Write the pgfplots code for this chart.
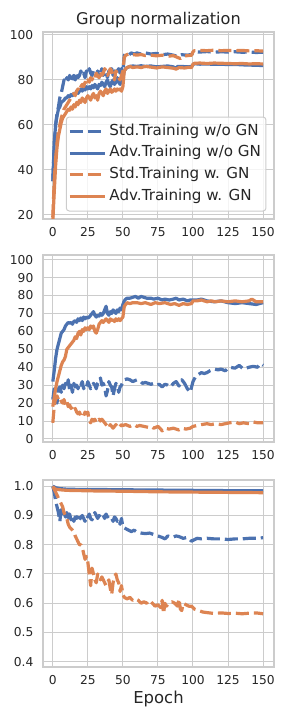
\documentclass[border=0pt]{standalone}
\usepackage{fontspec}
\setmainfont{DejaVu Sans}
\usepackage{pgfplots}
\pgfplotsset{compat=1.18}
\definecolor{sblue}{HTML}{4C72B0}
\definecolor{sorange}{HTML}{DD8452}
\definecolor{gridgray}{HTML}{CCCCCC}
\definecolor{textgray}{HTML}{262626}
\pgfplotsset{
  panel/.style={
    scale only axis, width=231bp, height=187bp, anchor=south west,
    xmin=-7, xmax=157.8,
    xtick={0,25,50,75,100,125,150},
    xticklabels={0,25,50,75,100,125,150},
    axis line style={draw=gridgray, line width=1.25bp},
    grid=major, grid style={draw=gridgray, line width=1bp},
    major tick length=0pt, tick style={draw=none},
    tick label style={font=\fontsize{12.3}{12.3}\selectfont, text=textgray, inner sep=0pt},
    xticklabel style={anchor=north, yshift=-8.5bp},
    yticklabel style={anchor=east, xshift=-9.5bp},
    every axis plot/.append style={line width=3.2bp, line join=round},
    clip=true,
  },
  sd/.style={dash pattern=on 13bp off 5bp},
}
\begin{document}
\begin{tikzpicture}
\useasboundingbox (0,0) rectangle (288bp,720bp);
% ---------- Panel 1 ----------
\begin{axis}[panel, at={(43bp,501bp)},
  ymin=18.2, ymax=101.3,
  ytick={20,40,60,80,100}, yticklabels={20,40,60,80,100},
  title={Group normalization},
  every axis title/.style={at={(0.5,1)}, anchor=base, yshift=7bp, font=\fontsize{16.2}{16.2}\selectfont, text=textgray},
  legend cell align=left,
  legend image code/.code={\draw[#1, line cap=butt] (0bp,0bp) -- (34bp,0bp); \path (0bp,0bp) -- (35bp,0bp);},
  legend style={at={(0.9675,0.04)}, anchor=south east, draw=gridgray, line width=1bp,
    fill=white, fill opacity=0.8, draw opacity=1, text opacity=1, rounded corners=3bp,
    inner xsep=2bp, inner ysep=3.6bp, row sep=0pt,
    font=\fontsize{15.2}{15.2}\selectfont, text=textgray,
    nodes={inner xsep=3bp, inner ysep=3.6bp, text height=11bp, text depth=3.5bp}},
]
\addplot[sblue, sd] coordinates {(0,35)(1,50)(2,60)(3,65)(4,68)(5,72)(6,74)(7,77)(8,80)(9,79)(10,81)(11,80)(12,82)(13,79)(14,81)(15,82)(16,80)(17,83)(18,81)(19,82)(20,84)(21,82)(22,83)(23,81)(24,84)(25,83)(26,85)(27,83)(28,82)(29,84)(30,83)(31,82)(32,84)(33,81)(34,83)(35,85)(36,82)(37,84)(38,83)(39,81)(40,84)(41,83)(42,85)(43,82)(44,84)(45,83)(46,84)(47,85)(48,83)(49,85)(50,84)(51,91)(52,91.5)(54,91)(56,92)(58,91.5)(60,92)(63,91.5)(66,92)(70,91.5)(74,91.8)(78,91.2)(82,91.5)(86,91)(89,90.5)(92,91.2)(96,91)(99,91.3)(100,92)(101,92.5)(105,92.4)(110,92.6)(115,92.3)(120,92.5)(125,92.4)(130,92.5)(135,92.3)(140,92.4)(145,92.2)(150,92.3)};
\addlegendentry{Std.Training w/o GN\hspace{5bp}}
\addplot[sblue] coordinates {(0,35)(1,52)(2,60)(3,64)(4,67)(5,68)(6,70)(7,70.5)(8,71)(9,72)(10,72)(11,73)(12,72.5)(13,73.5)(14,73)(15,74)(16,73.5)(17,75)(18,74)(19,75)(20,76)(21,75)(22,76.5)(23,75.5)(24,77)(25,76)(26,77)(27,76)(28,77.5)(29,76.5)(30,78)(31,77)(32,76)(33,78)(34,77.5)(35,79)(36,78)(37,77)(38,79)(39,80)(40,78)(41,77)(42,79)(43,80)(44,78)(45,79)(46,81)(47,79)(48,78)(49,80)(50,81)(51,84)(52,85)(53,85.5)(55,86)(57,86.2)(60,86)(63,86.3)(66,86)(70,86.2)(74,85.8)(78,86)(82,86.2)(86,85.8)(88,85.2)(89,86)(92,86)(96,85.8)(99,86)(100,86.8)(101,87.2)(105,87)(110,87.1)(115,86.9)(120,87)(125,86.8)(130,86.9)(135,86.7)(140,86.6)(145,86.5)(150,86.4)};
\addlegendentry{Adv.Training w/o GN\hspace{5bp}}
\addplot[sorange, sd] coordinates {(0,19)(1,35)(2,45)(3,52)(4,57)(5,60)(6,63)(7,65)(8,67)(9,68)(10,69)(11,70)(12,71)(13,72)(14,73)(15,74)(16,73)(17,75)(18,76)(19,75)(20,77)(21,78)(22,77)(23,79)(24,78)(25,80)(26,79)(27,81)(28,80)(29,82)(30,81)(31,83)(32,82)(33,81)(34,84)(35,82)(36,83)(37,85)(38,84)(39,82)(40,83)(41,85)(42,84)(43,82)(44,80)(45,84)(46,83)(47,81)(48,80)(49,82)(50,84)(51,90)(52,91)(54,91.5)(56,91)(58,91.2)(60,91)(63,91.3)(66,90.8)(70,91)(74,90.7)(78,91)(82,90.5)(86,90.8)(89,90)(91,89.5)(93,90.5)(96,90.8)(99,91)(100,92.5)(101,93)(105,93.1)(110,93)(115,93.2)(120,93)(125,93.1)(130,93)(135,93.1)(140,92.9)(145,93)(150,92.8)};
\addlegendentry{Std.Training w. GN\hspace{5bp}}
\addplot[sorange] coordinates {(0,17)(1,30)(2,42)(3,50)(4,55)(5,58)(6,61)(7,63)(8,64)(9,65)(10,66)(11,67)(12,66.5)(13,68)(14,67)(15,69)(16,68)(17,70)(18,69)(19,71)(20,70)(21,72)(22,71)(23,70)(24,72)(25,73)(26,72)(27,71)(28,73)(29,74)(30,72)(31,73)(32,71)(33,74)(34,75)(35,74)(36,73)(37,75)(38,76)(39,74)(40,75)(41,76)(42,74.5)(43,75)(44,76)(45,75)(46,76)(47,75.5)(48,76)(49,75)(50,77)(51,84)(52,85)(53,85.5)(55,86)(57,85.5)(60,85.8)(63,85.5)(66,86)(70,85.7)(74,85.3)(78,85.8)(82,85.5)(86,85.2)(88,84.8)(90,85.5)(94,85.3)(97,85.6)(99,85.5)(100,87)(101,87.4)(105,87.5)(110,87.3)(115,87.5)(120,87.4)(125,87.3)(130,87.2)(135,87.3)(140,87.1)(145,87.2)(150,87.1)};
\addlegendentry{Adv.Training w. GN\hspace{5bp}}
\end{axis}
% ---------- Panel 2 ----------
\begin{axis}[panel, at={(43bp,278bp)},
  ymin=-1.7, ymax=102.6,
  ytick={0,10,20,30,40,50,60,70,80,90,100}, yticklabels={0,10,20,30,40,50,60,70,80,90,100},
]
\addplot[sblue, sd] coordinates {(0,22)(1,28)(2,24)(3,20)(4,28)(5,29)(6,26)(7,30)(8,28)(9,31)(10,29)(11,33)(12,27)(13,30)(14,26)(15,31)(16,29)(17,30)(18,28)(19,31)(20,30)(21,32)(22,28)(23,30)(24,29)(25,32)(26,30)(27,28)(28,29)(29,31)(30,30)(31,28)(32,31)(33,32)(34,34)(35,30)(36,31)(37,29)(38,24)(39,27)(40,32)(41,30)(42,29)(43,24)(44,28)(45,31)(46,30)(47,26)(48,29)(49,30)(50,32)(51,33)(53,33.5)(55,33)(57,32)(60,33)(62,32.5)(64,31)(66,31.5)(68,31)(70,30.5)(72,31)(74,30)(76,30.5)(78,29)(80,30.5)(82,30)(84,29)(86,31)(88,32)(90,29.5)(92,33)(94,31)(96,28)(98,26)(99,29)(100,32)(102,35)(104,36)(106,37)(108,36.5)(110,37)(112,38)(115,39)(118,38.5)(120,39)(123,38)(126,40)(130,39.5)(133,41)(136,39)(140,40)(143,40.5)(146,40)(148,42)(150,41)};
\addplot[sblue] coordinates {(0,32)(1,38)(2,45)(3,50)(4,53)(5,56)(6,59)(7,60)(8,61)(9,63)(10,64)(11,65)(12,64.5)(13,65)(14,64)(15,65.5)(16,66)(17,65)(18,67)(19,66)(20,67.5)(21,66)(22,68)(23,67)(24,68)(25,67.5)(26,68)(27,69)(28,70)(29,71)(30,69)(31,68)(32,69)(33,68.5)(34,70)(35,69)(36,70)(37,72)(38,74)(39,70)(40,69)(41,71)(42,70)(43,72)(44,71)(45,70)(46,72)(47,71)(48,73)(49,72)(50,75)(51,77)(52,78)(53,78.5)(55,78.5)(57,79)(59,79.5)(61,78.5)(63,79.5)(65,79)(67,78.5)(70,78.5)(72,78)(75,78.5)(78,77.5)(80,78)(83,77.5)(86,78)(88,78.5)(90,77.5)(93,78)(96,77)(98,77.5)(100,77.5)(103,77.5)(106,78)(110,77)(115,76.5)(120,77)(125,76)(130,75.5)(135,76)(140,75.5)(145,75)(150,76)};
\addplot[sorange, sd] coordinates {(0,9)(1,18)(2,23)(3,24)(4,22)(5,23)(6,21)(7,20)(8,22)(9,19)(10,21)(11,18)(12,19)(13,17)(14,18)(15,16)(16,17)(17,15)(18,14)(19,15)(20,13)(21,14)(22,13)(23,15)(24,14)(25,15)(26,10)(27,9)(28,11)(29,10)(30,11)(31,9)(32,10)(33,11)(34,10)(35,11)(36,10)(37,9)(38,8)(39,7)(40,6)(41,8)(42,7)(43,6)(44,7)(45,8)(46,7)(47,6)(48,7)(49,8)(50,7.5)(52,8)(55,7)(58,8)(60,7)(62,7.5)(65,7)(68,6.5)(70,7)(72,6)(75,7)(77,5.5)(78,4.5)(80,6)(83,5.5)(86,6)(88,5.5)(90,5)(92,6)(95,5.5)(98,6)(100,7)(103,7.5)(106,8)(110,8.5)(113,8)(116,8.5)(120,8)(123,8.5)(126,9)(130,9.5)(133,8.5)(136,9)(140,8.5)(143,9.5)(146,9)(150,9)};
\addplot[sorange] coordinates {(0,18)(1,23)(2,28)(3,32)(4,35)(5,38)(6,41)(7,43)(8,44)(9,46)(10,50)(11,51)(12,52)(13,53)(14,54)(15,55)(16,57)(17,56)(18,59)(19,60)(20,58)(21,61)(22,60)(23,62)(24,61)(25,62)(26,61)(27,63)(28,62)(29,63)(30,60)(31,59)(32,61)(33,64)(34,65)(35,66)(36,65)(37,66)(38,67)(39,66)(40,65)(41,67)(42,66)(43,66.5)(44,65.5)(45,67)(46,66)(47,67)(48,66)(49,67)(50,68)(51,74)(52,75)(53,76)(55,75.5)(57,76)(60,76)(63,75.5)(66,76)(70,75)(73,76)(76,75.5)(80,76)(84,75)(87,75.5)(90,74.5)(93,75.5)(96,75)(99,75.5)(100,77)(103,77)(106,77.5)(110,76.5)(113,77)(116,76.5)(120,77)(125,76.5)(130,77)(135,76.5)(140,77)(142,78)(145,76.5)(150,76.5)};
\end{axis}
% ---------- Panel 3 ----------
\begin{axis}[panel, at={(43bp,53bp)},
  ymin=0.382, ymax=1.0214,
  ytick={0.4,0.5,0.6,0.7,0.8,0.9,1.0}, yticklabels={0.4,0.5,0.6,0.7,0.8,0.9,1.0},
  xlabel={Epoch},
  every axis x label/.style={at={(0.5,0)}, anchor=base, yshift=-36bp, font=\fontsize{16.5}{16.5}\selectfont, text=textgray},
]
\addplot[sblue, sd] coordinates {(0,1.0)(1,0.98)(2,0.95)(3,0.93)(4,0.91)(5,0.88)(6,0.92)(7,0.9)(8,0.91)(9,0.895)(10,0.91)(11,0.89)(12,0.905)(13,0.885)(14,0.9)(15,0.88)(16,0.895)(17,0.89)(18,0.9)(19,0.885)(20,0.895)(21,0.9)(22,0.89)(23,0.88)(24,0.9)(25,0.895)(26,0.905)(27,0.89)(28,0.885)(29,0.9)(30,0.91)(31,0.9)(32,0.89)(33,0.9)(34,0.895)(35,0.905)(36,0.9)(37,0.89)(38,0.905)(39,0.895)(40,0.9)(41,0.895)(42,0.89)(43,0.88)(44,0.895)(45,0.89)(46,0.88)(47,0.885)(48,0.87)(49,0.89)(50,0.86)(52,0.855)(54,0.85)(56,0.845)(58,0.85)(60,0.843)(63,0.84)(66,0.838)(69,0.84)(72,0.835)(75,0.83)(78,0.825)(80,0.82)(82,0.83)(85,0.825)(88,0.83)(90,0.828)(93,0.822)(96,0.825)(99,0.812)(100,0.815)(103,0.822)(106,0.82)(110,0.822)(115,0.82)(120,0.82)(125,0.818)(130,0.82)(135,0.82)(140,0.822)(145,0.822)(150,0.824)};
\addplot[sblue] coordinates {(0,1.0)(2,0.995)(5,0.992)(10,0.99)(20,0.989)(30,0.989)(50,0.988)(75,0.987)(100,0.986)(125,0.985)(150,0.985)};
\addplot[sorange, sd] coordinates {(0,1.0)(1,0.99)(2,0.98)(3,0.97)(4,0.96)(5,0.95)(6,0.94)(7,0.93)(8,0.91)(9,0.9)(10,0.89)(11,0.87)(12,0.86)(13,0.855)(14,0.85)(15,0.845)(16,0.83)(17,0.82)(18,0.81)(19,0.8)(20,0.8)(21,0.79)(22,0.77)(23,0.75)(24,0.76)(25,0.74)(26,0.7)(27,0.66)(28,0.72)(29,0.7)(30,0.68)(31,0.67)(32,0.7)(33,0.69)(34,0.68)(35,0.69)(36,0.68)(37,0.67)(38,0.66)(39,0.67)(40,0.68)(41,0.65)(42,0.63)(43,0.67)(44,0.69)(45,0.7)(46,0.68)(47,0.67)(48,0.64)(49,0.66)(50,0.63)(51,0.62)(53,0.615)(55,0.62)(57,0.61)(59,0.615)(61,0.61)(63,0.6)(65,0.605)(67,0.6)(69,0.61)(71,0.6)(73,0.59)(75,0.595)(77,0.585)(78,0.61)(79,0.565)(80,0.6)(81,0.59)(83,0.6)(85,0.605)(87,0.6)(89,0.59)(90,0.615)(91,0.58)(92,0.575)(93,0.6)(95,0.595)(97,0.59)(99,0.59)(101,0.58)(104,0.575)(107,0.57)(110,0.568)(115,0.565)(120,0.567)(125,0.565)(130,0.566)(135,0.564)(140,0.566)(145,0.567)(150,0.564)};
\addplot[sorange] coordinates {(0,0.997)(2,0.99)(5,0.988)(10,0.986)(20,0.985)(30,0.984)(50,0.983)(75,0.981)(100,0.98)(125,0.979)(150,0.978)};
\end{axis}
\end{tikzpicture}
\end{document}
